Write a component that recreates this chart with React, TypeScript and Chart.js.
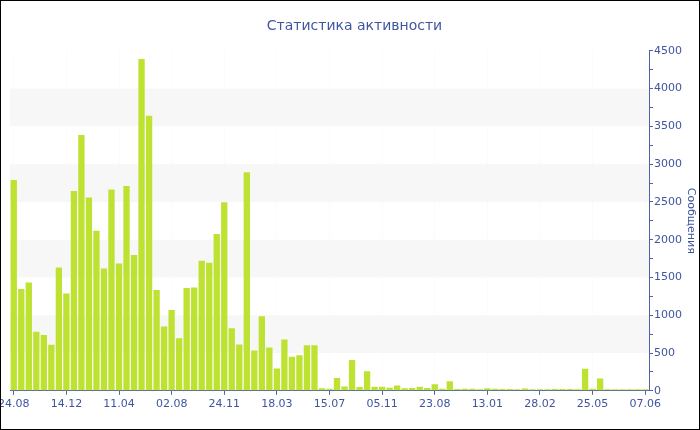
import React, { useEffect, useRef } from "react";
import { Chart, registerables } from "chart.js";

Chart.register(...registerables);

const chartTitle = "Статистика активности";
const yAxisTitle = "Сообщения";

const tickLabels = [
  "24.08", "14.12", "11.04", "02.08", "24.11", "18.03", "15.07",
  "05.11", "23.08", "13.01", "28.02", "25.05", "07.06",
];

const messageCounts = [
  2790, 1346, 1434, 781, 737, 609, 1632, 1288, 2643, 3384,
  2559, 2118, 1619, 2665, 1685, 2709, 1796, 4390, 3640, 1333,
  851, 1068, 697, 1359, 1368, 1721, 1694, 2074, 2497, 829,
  613, 2894, 534, 988, 574, 296, 680, 450, 472, 604,
  604, 34, 26, 168, 57, 406, 49, 260, 53, 53,
  42, 71, 34, 38, 53, 38, 88, 26, 128, 24,
  26, 26, 22, 34, 26, 24, 24, 22, 30, 22,
  22, 22, 24, 24, 24, 22, 291, 26, 163, 22,
  22, 22, 22, 22, 22,
];

const labelEvery = 7;
const bandRanges: [number, number][] = [
  [500, 1000],
  [1500, 2000],
  [2500, 3000],
  [3500, 4000],
];

const TEXT = "#3f55a0";
const AXIS = "#4d62aa";
const BAR = "#bde232";

export default function App() {
  const ref = useRef<HTMLCanvasElement | null>(null);

  useEffect(() => {
    document.body.style.margin = "0";
    if (!ref.current) return;
    const categories = messageCounts.map((_, i) =>
      i % labelEvery === 0 ? tickLabels[i / labelEvery] ?? "" : ""
    );

    const bandsPlugin = {
      id: "bands",
      beforeDatasetsDraw(chart: any) {
        const { ctx, chartArea, scales } = chart;
        const y = scales.y;
        ctx.save();
        ctx.fillStyle = "#f7f7f7";
        for (const [a, b] of bandRanges) {
          const y1 = y.getPixelForValue(b);
          const y2 = y.getPixelForValue(a);
          ctx.fillRect(chartArea.left, y1, chartArea.right - chartArea.left, y2 - y1);
        }
        ctx.restore();
      },
    };

    const chart = new Chart(ref.current, {
      type: "bar",
      data: {
        labels: categories,
        datasets: [
          {
            data: messageCounts,
            backgroundColor: BAR,
            borderWidth: 0,
            barPercentage: 0.84,
            categoryPercentage: 1,
          },
        ],
      },
      plugins: [bandsPlugin],
      options: {
        animation: false,
        responsive: true,
        maintainAspectRatio: false,
        layout: { padding: { left: 9, right: 0, top: 0, bottom: 15 } },
        plugins: {
          legend: { display: false },
          tooltip: { enabled: false },
          title: {
            display: true,
            text: chartTitle,
            color: TEXT,
            font: { family: "'DejaVu Sans'", size: 14, weight: "normal" },
            padding: { top: 17, bottom: 16 },
          },
        },
        scales: {
          x: {
            offset: true,
            afterBuildTicks: (axis: any) => {
              axis.ticks = axis.ticks.filter((t: any) => t.value % labelEvery === 0);
            },
            afterFit: (axis: any) => {
              axis.paddingLeft = 0;
              axis.paddingRight = 0;
            },
            grid: {
              offset: false,
              color: "rgba(0,0,0,0.015)",
              tickColor: AXIS,
              tickLength: 4,
            },
            border: { color: AXIS, width: 1 },
            ticks: {
              autoSkip: false,
              maxRotation: 0,
              minRotation: 0,
              color: TEXT,
              padding: 3,
              font: { family: "'DejaVu Sans'", size: 11 },
            },
          },
          y: {
            position: "right",
            min: 0,
            max: 4500,
            afterFit: (axis: any) => {
              axis.width = 50;
            },
            grid: {
              drawOnChartArea: false,
              tickColor: AXIS,
              tickLength: 4,
            },
            border: { color: AXIS, width: 1 },
            ticks: {
              stepSize: 250,
              autoSkip: false,
              color: TEXT,
              padding: 1,
              font: { family: "'DejaVu Sans'", size: 11 },
              callback: (v: any) => (Number(v) % 500 === 0 ? String(v) : ""),
            },
            title: {
              display: true,
              text: yAxisTitle,
              color: TEXT,
              padding: { top: 2, bottom: 0 },
              font: { family: "'DejaVu Sans'", size: 11 },
            },
          },
        },
      },
    });
    return () => chart.destroy();
  }, []);

  return (
    <div
      style={{
        width: 700,
        height: 430,
        boxSizing: "border-box",
        border: "1px solid #000",
        overflow: "hidden",
        background: "#fff",
      }}
    >
      <div style={{ position: "relative", width: 698, height: 428 }}>
        <canvas ref={ref} />
      </div>
    </div>
  );
}
